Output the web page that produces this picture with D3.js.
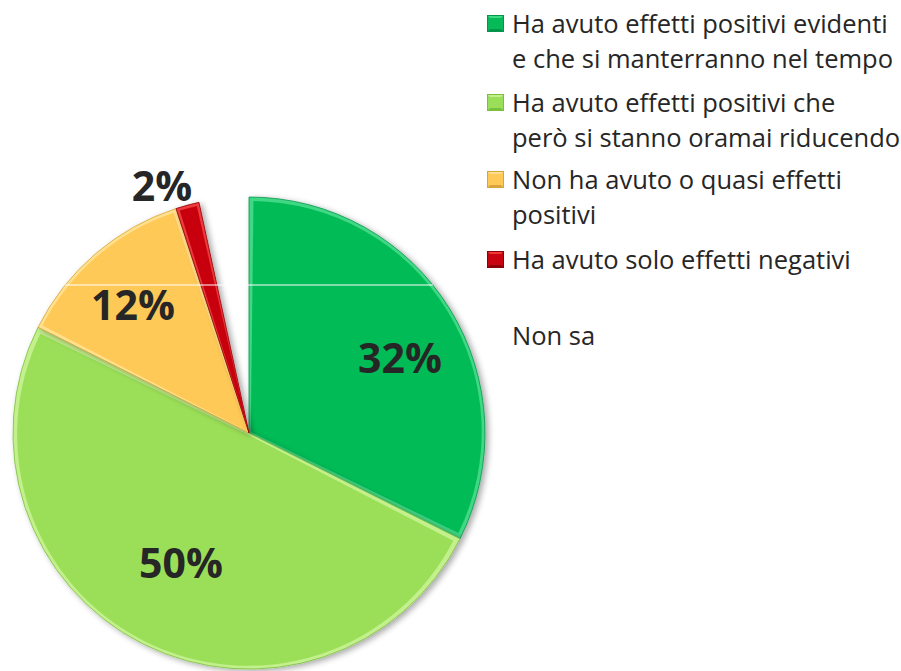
<!DOCTYPE html>
<html><head><meta charset="utf-8">
<script src="https://cdn.jsdelivr.net/npm/d3@7/dist/d3.min.js"></script>
<style>
html,body{margin:0;padding:0;background:#fff;}
svg{display:block;}
</style></head>
<body>
<svg id="chart" width="901" height="671"></svg>
<script>
const categories = [
  "Ha avuto effetti positivi evidenti e che si manterranno nel tempo",
  "Ha avuto effetti positivi che però si stanno oramai riducendo",
  "Non ha avuto o quasi effetti positivi",
  "Ha avuto solo effetti negativi",
  "Non sa"
];
const legendLines = [
  ["Ha avuto effetti positivi evidenti", "e che si manterranno nel tempo"],
  ["Ha avuto effetti positivi che", "però si stanno oramai riducendo"],
  ["Non ha avuto o quasi effetti", "positivi"],
  ["Ha avuto solo effetti negativi"],
  ["Non sa"]
];
const values = [32.4, 50.0, 12.6, 1.6, 3.4];
const pctLabels = ["32%", "50%", "12%", "2%", ""];
const colors = ["#06bb57", "#9bdf59", "#fec957", "#c80410", null];
const darkColors = ["#03964a", "#79c03f", "#d9a43b", "#8c0008", null];
const lightColors = ["#3fd884", "#c3f08c", "#ffe08f", "#ee3a3a", null];

const svg = d3.select("#chart");
const cx = 249, cy = 433, R = 236;

const defs = svg.append("defs");
const f = defs.append("filter").attr("id","shadow").attr("x","-20%").attr("y","-20%").attr("width","140%").attr("height","140%");
f.append("feGaussianBlur").attr("in","SourceAlpha").attr("stdDeviation",3);
f.append("feOffset").attr("dx",3).attr("dy",2).attr("result","ob");
f.append("feComponentTransfer").append("feFuncA").attr("type","linear").attr("slope",0.35);
const m = f.append("feMerge"); m.append("feMergeNode"); m.append("feMergeNode").attr("in","SourceGraphic");

const pie = d3.pie().sort(null).value(d => d).startAngle(0).endAngle(2*Math.PI);
const arcs = pie(values);
const arc = d3.arc().innerRadius(0).outerRadius(R);
const arcInner = d3.arc().innerRadius(0).outerRadius(R - 5);

const g = svg.append("g").attr("transform", `translate(${cx},${cy})`);

arcs.forEach((a, i) => {
  if (!colors[i]) return;
  const sg = g.append("g").attr("filter","url(#shadow)");
  sg.append("path").attr("d", arc(a)).attr("fill", lightColors[i]).attr("stroke", darkColors[i]).attr("stroke-width", 0.8);
  sg.append("path").attr("d", arcInner({startAngle:a.startAngle+0.012, endAngle:a.endAngle-0.012})).attr("fill", colors[i])
    .attr("transform", (()=>{const mid=(a.startAngle+a.endAngle)/2;return `translate(${Math.sin(mid)*2},${-Math.cos(mid)*2})`;})());
});

// thin white artifact line across the pie
const ly = 285 - cy;
const half = Math.sqrt(R*R - ly*ly);
g.append("line").attr("x1", -half).attr("x2", half).attr("y1", ly).attr("y2", ly)
  .attr("stroke", "#ffffff").attr("stroke-width", 1.2);

// data labels
const labelPos = [[400, 373], [181, 578], [133, 320], [162, 201]];
arcs.forEach((a, i) => {
  if (!pctLabels[i]) return;
  svg.append("text").attr("x", labelPos[i][0]).attr("y", labelPos[i][1])
    .attr("text-anchor","middle")
    .attr("font-family","'Open Sans', sans-serif").attr("font-weight",700)
    .attr("font-size", 41).attr("fill","#262626").text(pctLabels[i]);
});

// legend
const legendBase = [33, 112, 189, 269, 345];
const lg = svg.append("g");
categories.forEach((c, i) => {
  const by = legendBase[i];
  if (colors[i]) {
    const s = 17, x0 = 487, y0 = by - 18;
    const mg = lg.append("g");
    mg.append("rect").attr("x", x0).attr("y", y0).attr("width", s).attr("height", s).attr("fill", colors[i]);
    const p = (pts) => "M" + pts.map(q => q.join(",")).join("L") + "Z";
    const c0 = [x0 + s/2, y0 + s/2];
    mg.append("path").attr("d", p([[x0,y0],[x0+s,y0],c0])).attr("fill", lightColors[i]);
    mg.append("path").attr("d", p([[x0,y0+s],[x0+s,y0+s],c0])).attr("fill", darkColors[i]);
    mg.append("rect").attr("x", x0+3).attr("y", y0+3).attr("width", s-6).attr("height", s-6).attr("fill", colors[i]);
    mg.append("rect").attr("x", x0+0.5).attr("y", y0+0.5).attr("width", s-1).attr("height", s-1).attr("fill","none").attr("stroke", darkColors[i]).attr("stroke-width",1);
  }
  legendLines[i].forEach((ln, j) => {
    lg.append("text").attr("x", 512).attr("y", by + j*35)
      .attr("font-family","'Open Sans', sans-serif").attr("font-size", 25.5)
      .attr("fill","#262626").text(ln);
  });
});
</script>
</body></html>
